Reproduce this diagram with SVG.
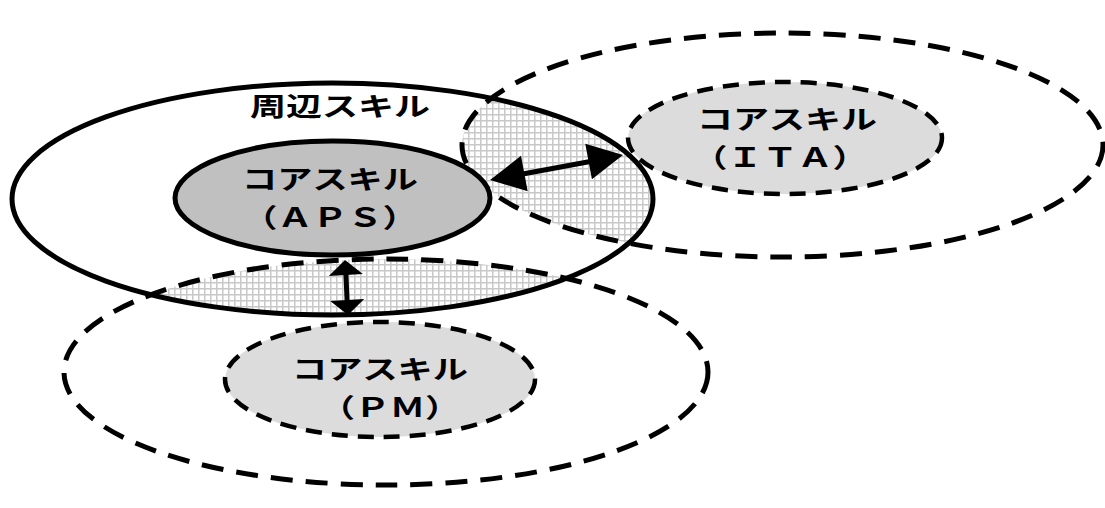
<svg xmlns="http://www.w3.org/2000/svg" width="1105" height="508" viewBox="0 0 1105 508">
<style>
.solid{fill:none;stroke:#000;stroke-width:5}
.dashO{fill:none;stroke:#000;stroke-width:5;stroke-dasharray:22 13}
.dashI{fill:#dcdcdc;stroke:#000;stroke-width:4.5;stroke-dasharray:16 10}
.lbl{font-family:"Noto Sans CJK JP","Noto Sans CJK SC",sans-serif;font-size:26px;font-weight:bold;fill:#000;text-anchor:middle}
.arrow{fill:#000;stroke:none}
.shaft{stroke:#000;stroke-width:5;fill:none}
</style>
<defs>
<pattern id="grid" patternUnits="userSpaceOnUse" width="6" height="6">
<rect width="6" height="6" fill="#fff"/>
<path d="M0 0.75H6M0.75 0V6" stroke="#c8c8c8" stroke-width="1.5"/>
</pattern>
<clipPath id="clipBig"><ellipse cx="332.5" cy="199" rx="320.5" ry="116"/></clipPath>
</defs>
<rect width="1105" height="508" fill="#fff"/>
<g id="peripheral-fill"><ellipse cx="332.5" cy="199" rx="320.5" ry="116" fill="#fff"/></g>
<g id="overlap" clip-path="url(#clipBig)">
<ellipse cx="782.5" cy="145" rx="320.5" ry="112" fill="url(#grid)"/>
<ellipse cx="386" cy="372" rx="322" ry="113" fill="url(#grid)"/>
</g>
<g id="peripheral">
<ellipse class="solid" cx="332.5" cy="199" rx="320.5" ry="116"/>
<text class="lbl" x="340" y="116" textLength="180" lengthAdjust="spacingAndGlyphs">周辺スキル</text>
</g>
<g id="ita-outer"><ellipse class="dashO" cx="782.5" cy="145" rx="320.5" ry="112"/></g>
<g id="pm-outer"><ellipse class="dashO" cx="386" cy="372" rx="322" ry="113"/></g>
<g id="core-ita">
<ellipse class="dashI" cx="785" cy="138" rx="157" ry="56"/>
<text class="lbl" x="787" y="129" textLength="180" lengthAdjust="spacingAndGlyphs">コアスキル</text>
<text class="lbl" x="780" y="167" textLength="175" lengthAdjust="spacingAndGlyphs">（ＩＴＡ）</text>
</g>
<g id="core-pm">
<ellipse class="dashI" cx="380" cy="379.5" rx="155" ry="57.5"/>
<text class="lbl" x="380" y="379" textLength="176" lengthAdjust="spacingAndGlyphs">コアスキル</text>
<text class="lbl" x="390" y="417" textLength="140" lengthAdjust="spacingAndGlyphs">（ＰＭ）</text>
</g>
<g id="core-aps">
<ellipse cx="332.5" cy="198" rx="157.5" ry="57" fill="#c0c0c0" stroke="#000" stroke-width="5"/>
<text class="lbl" x="330" y="189" textLength="176" lengthAdjust="spacingAndGlyphs">コアスキル</text>
<text class="lbl" x="330" y="227" textLength="175" lengthAdjust="spacingAndGlyphs">（ＡＰＳ）</text>
</g>
<g id="connectors">
<line class="shaft" x1="520" y1="174.5" x2="593" y2="161"/>
<polygon class="arrow" points="490,180 521,155.8 527.7,191.2"/>
<polygon class="arrow" points="623,155 591.9,179.2 585.3,143.8"/>
<line class="shaft" x1="345.8" y1="272" x2="347.2" y2="303"/>
<polygon class="arrow" points="345,260 362.8,274.1 328.8,275.9"/>
<polygon class="arrow" points="348,315 330.2,300.9 364.2,299.1"/>
</g>
</svg>
